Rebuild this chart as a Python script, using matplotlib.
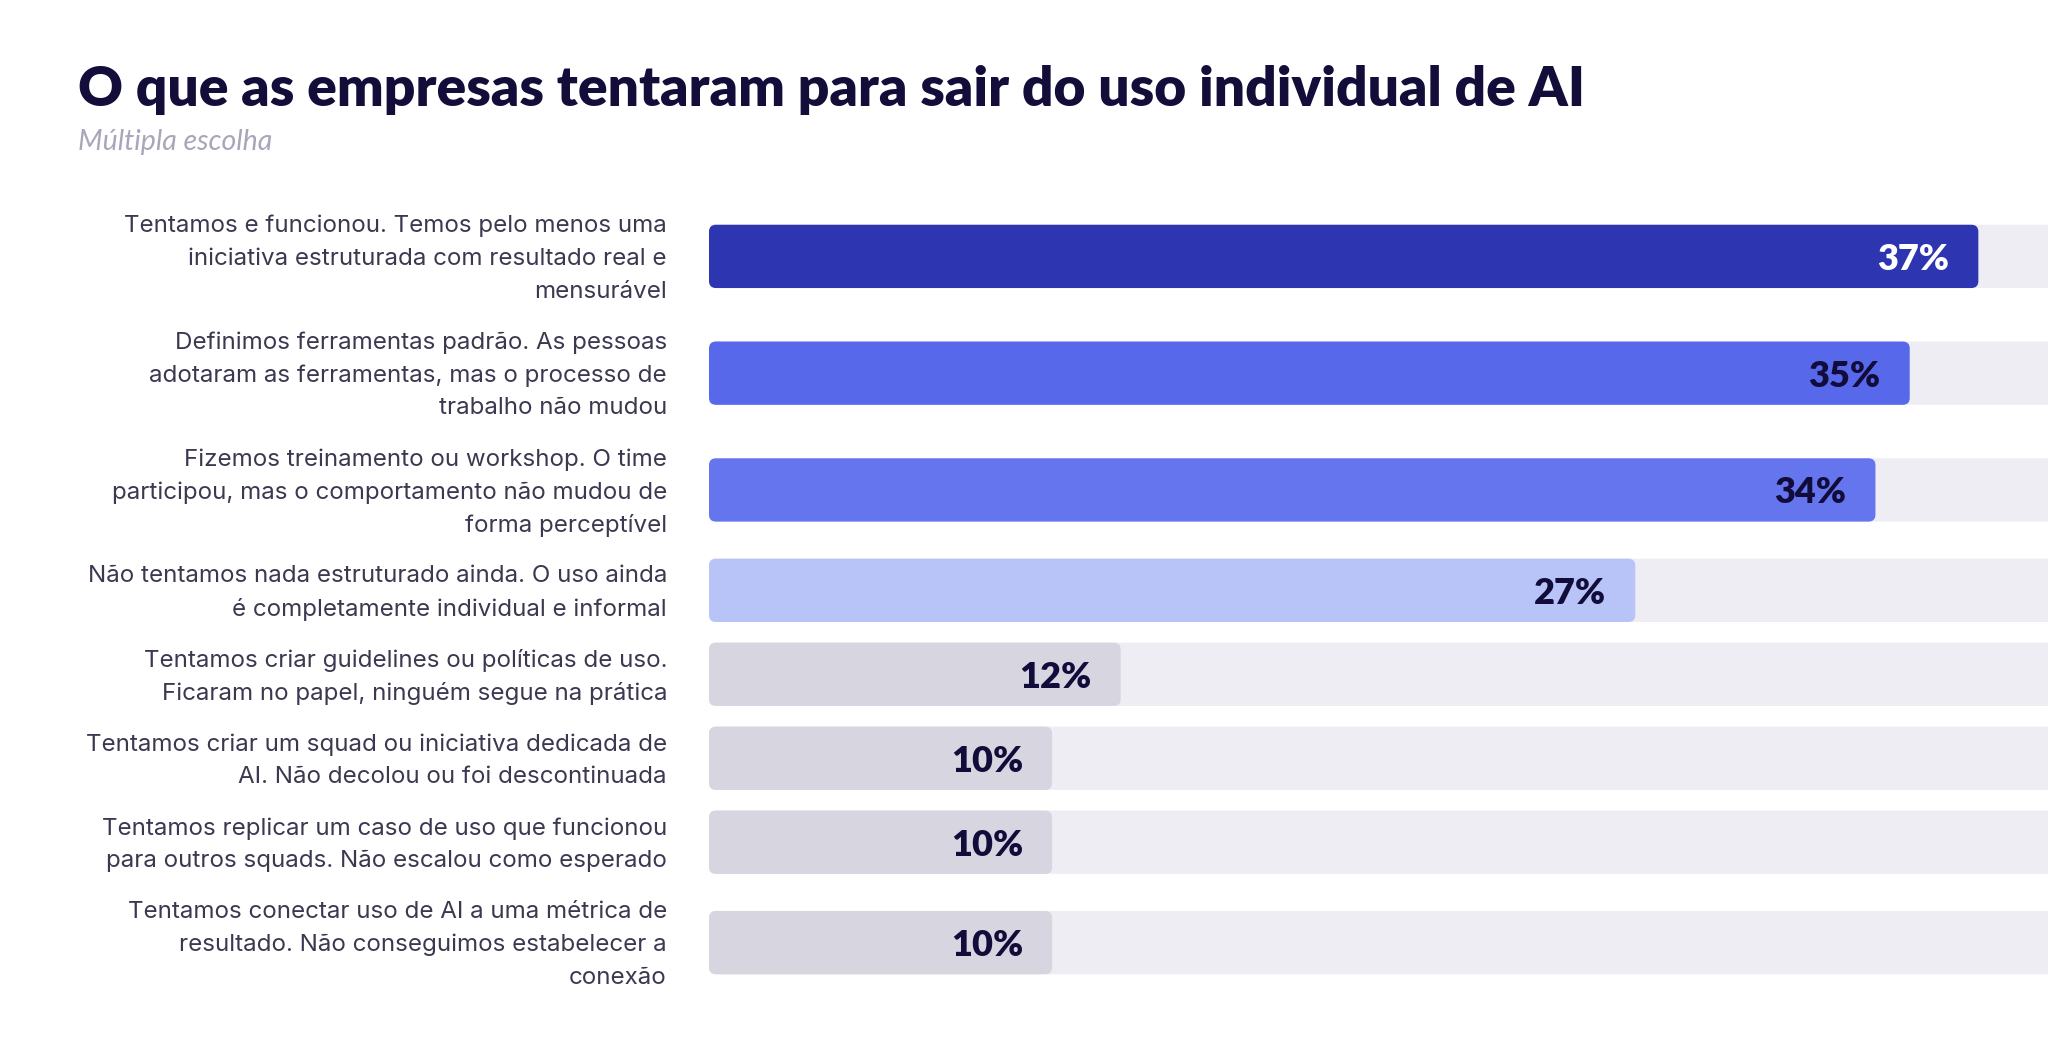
import matplotlib
matplotlib.use("Agg")
import matplotlib.pyplot as plt
from matplotlib.patches import FancyBboxPatch
from matplotlib.transforms import blended_transform_factory

title = "O que as empresas tentaram para sair do uso individual de AI"
subtitle = "Múltipla escolha"
labels = [
    "Tentamos e funcionou. Temos pelo menos uma\niniciativa estruturada com resultado real e\nmensurável",
    "Definimos ferramentas padrão. As pessoas\nadotaram as ferramentas, mas o processo de\ntrabalho não mudou",
    "Fizemos treinamento ou workshop. O time\nparticipou, mas o comportamento não mudou de\nforma perceptível",
    "Não tentamos nada estruturado ainda. O uso ainda\né completamente individual e informal",
    "Tentamos criar guidelines ou políticas de uso.\nFicaram no papel, ninguém segue na prática",
    "Tentamos criar um squad ou iniciativa dedicada de\nAI. Não decolou ou foi descontinuada",
    "Tentamos replicar um caso de uso que funcionou\npara outros squads. Não escalou como esperado",
    "Tentamos conectar uso de AI a uma métrica de\nresultado. Não conseguimos estabelecer a\nconexão",
]
values = [37, 35, 34, 27, 12, 10, 10, 10]
bar_colors = ["#2e35b0", "#5868ea", "#6475ed", "#b8c4f8",
              "#d6d5e0", "#d6d5e0", "#d6d5e0", "#d6d5e0"]
value_colors = ["#ffffff"] + ["#120c3a"] * 7

TRACK = "#eeedf3"
W, H = 2048, 1061
fig = plt.figure(figsize=(W / 100, H / 100), dpi=100)
fig.patch.set_facecolor("white")

# layout of rows: each row height = number of label lines + gap
GAP = 0.56
BAR_H = 1.93
line_counts = [len(l.split("\n")) for l in labels]
centers = []
acc = 0.0
for n in line_counts:
    h = n + GAP
    centers.append(acc + h / 2)
    acc += h
total = acc

ax_left, ax_top, ax_bot = 709 / W, 1 - 198 / H, 1 - 1001 / H
ax = fig.add_axes([ax_left, ax_bot, 1 - ax_left, ax_top - ax_bot])
ax.set_xlim(0, 39.03)
ax.set_ylim(total, 0)
ax.axis("off")

# aspect for rounded corners
p0 = ax.transData.transform((0, 0))
p1 = ax.transData.transform((1, 1))
px_x = abs(p1[0] - p0[0])
px_y = abs(p1[1] - p0[1])
r_px = 7
rx = r_px / px_x
aspect = (r_px / px_y) / rx

for c in centers:
    ax.add_patch(FancyBboxPatch((0, c - BAR_H / 2), 100, BAR_H,
                                boxstyle=f"round,pad=0,rounding_size={rx}",
                                mutation_aspect=aspect, fc=TRACK, ec="none",
                                clip_on=True))

for c, v, col, tc in zip(centers, values, bar_colors, value_colors):
    ax.add_patch(FancyBboxPatch((0, c - BAR_H / 2), v, BAR_H,
                                boxstyle=f"round,pad=0,rounding_size={rx}",
                                mutation_aspect=aspect, fc=col, ec="none"))
    ax.annotate(f"{v}%", xy=(v, c), xytext=(-29, 0), textcoords="offset pixels",
                ha="right", va="center_baseline", fontsize=26, fontweight="heavy",
                family=["Lato", "DejaVu Sans"], color=tc)

trans = blended_transform_factory(ax.transAxes, ax.transData)
for c, lab in zip(centers, labels):
    lines = lab.split("\n")
    n = len(lines)
    for i, line in enumerate(lines):
        y = c + (i - (n - 1) / 2)
        ax.annotate(line, xy=(0, y), xycoords=trans, xytext=(-42, 0),
                    textcoords="offset pixels", ha="right", va="center_baseline",
                    fontsize=17.4, family=["Inter", "DejaVu Sans"], color="#3b3950",
                    annotation_clip=False)

fig.text(78 / W, 1 - 106 / H, title, ha="left", va="baseline", fontsize=39.7,
         fontweight="heavy", family=["Lato", "DejaVu Sans"], color="#130d3a")
fig.text(78 / W, 1 - 150 / H, subtitle, ha="left", va="baseline", fontsize=20.5,
         style="italic", family=["Lato", "DejaVu Sans"], color="#a8a6ba")

fig.savefig("out.png", dpi=100, facecolor="white")
